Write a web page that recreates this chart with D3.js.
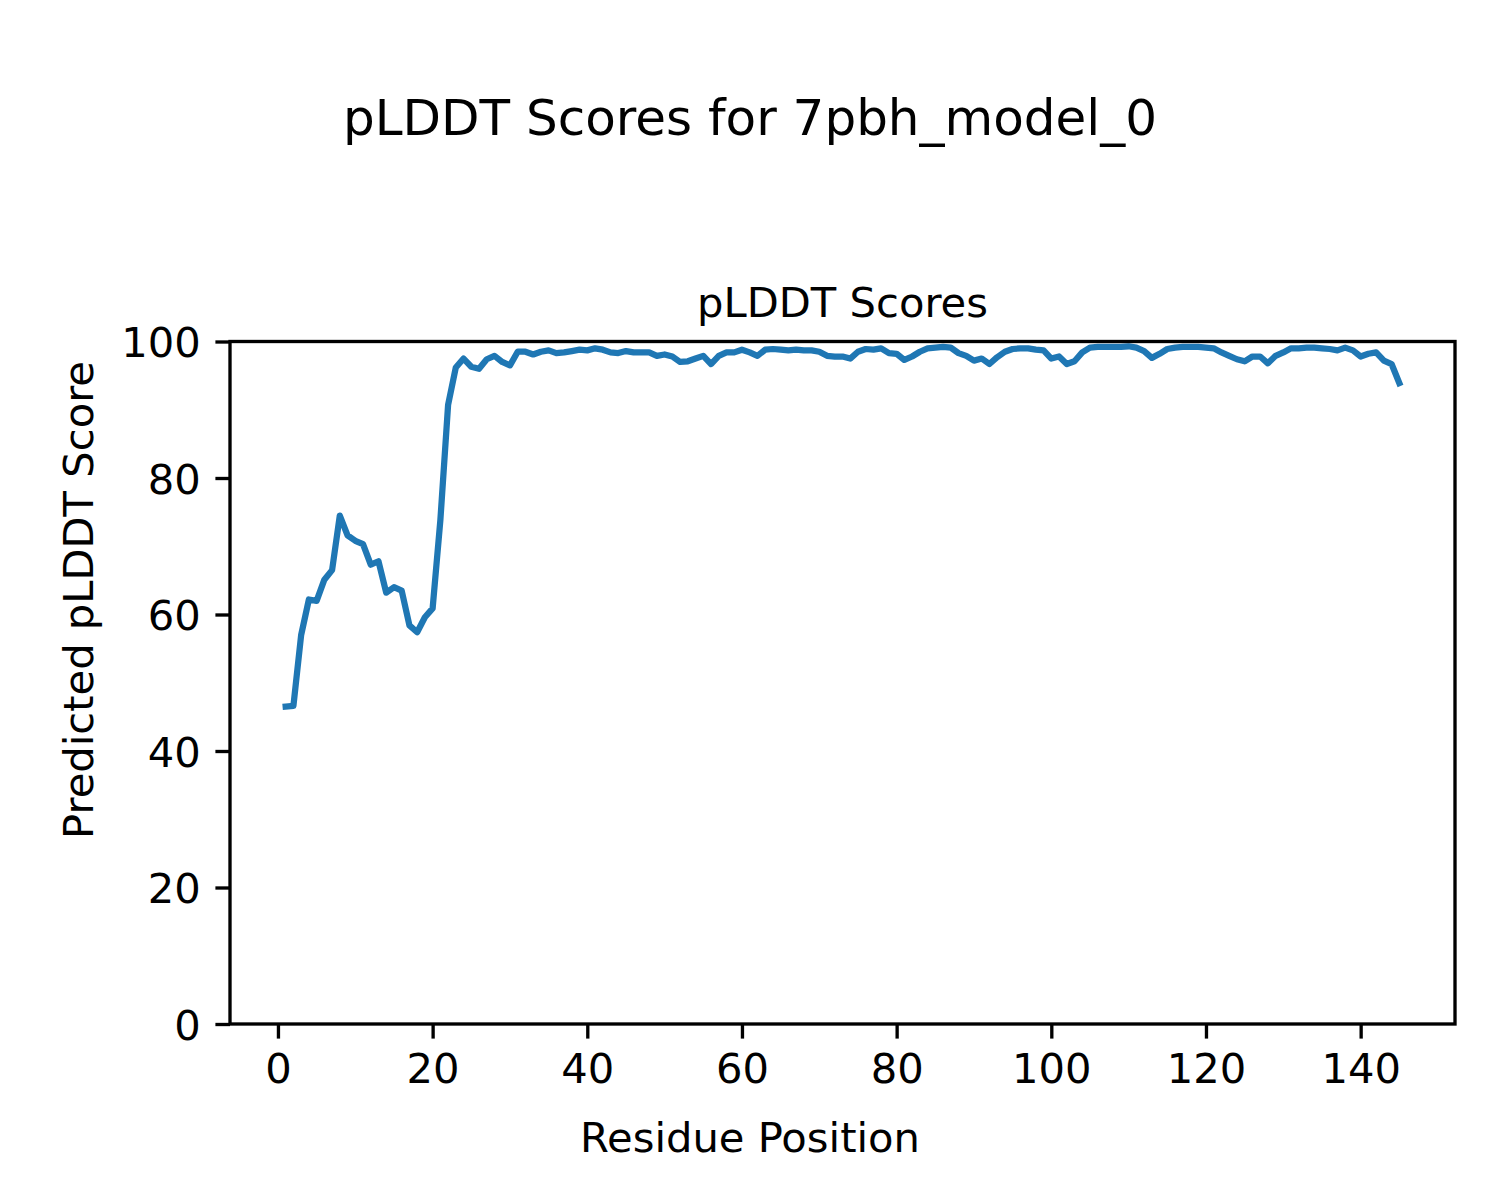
<!DOCTYPE html>
<html>
<head>
<meta charset="utf-8">
<script src="https://cdn.jsdelivr.net/npm/d3@7"></script>
<style>
  html, body { margin: 0; padding: 0; background: #fff; }
  svg { display: block; }
  text { font-family: "DejaVu Sans", sans-serif; fill: #000; }
</style>
</head>
<body>
<svg id="chart" width="1500" height="1200"></svg>
<script>
// Residue positions 1..145
const residues = d3.range(1, 146);
// pLDDT values
const plddt = [
  46.5, 46.6, 57.0, 62.2, 62.0, 65.1, 66.5, 74.5, 71.6, 70.8,
  70.3, 67.3, 67.8, 63.2, 64.0, 63.5, 58.4, 57.4, 59.6, 60.9,
  73.8, 90.7, 96.2, 97.5, 96.3, 96.0, 97.4, 97.9, 97.0, 96.5,
  98.5, 98.5, 98.1, 98.5, 98.7, 98.3, 98.4, 98.6, 98.8, 98.7,
  99.0, 98.8, 98.4, 98.3, 98.6, 98.4, 98.4, 98.4, 97.9, 98.1,
  97.8, 97.0, 97.1, 97.5, 97.9, 96.7, 97.9, 98.4, 98.4, 98.8,
  98.4, 97.9, 98.8, 98.9, 98.8, 98.7, 98.8, 98.7, 98.7, 98.5,
  97.9, 97.8, 97.8, 97.5, 98.5, 98.9, 98.8, 99.0, 98.3, 98.2,
  97.3, 97.8, 98.5, 99.0, 99.1, 99.2, 99.1, 98.3, 97.9, 97.2,
  97.5, 96.7, 97.7, 98.5, 98.9, 99.0, 99.0, 98.8, 98.7, 97.5,
  97.8, 96.7, 97.1, 98.4, 99.1, 99.2, 99.2, 99.2, 99.2, 99.3,
  99.1, 98.6, 97.6, 98.2, 98.9, 99.1, 99.2, 99.2, 99.2, 99.1,
  99.0, 98.4, 97.9, 97.4, 97.1, 97.8, 97.8, 96.8, 97.9, 98.4,
  99.0, 99.0, 99.1, 99.1, 99.0, 98.9, 98.7, 99.1, 98.7, 97.8,
  98.2, 98.4, 97.2, 96.7, 93.9
];
const xTicks = [0, 20, 40, 60, 80, 100, 120, 140];
const yTicks = [0, 20, 40, 60, 80, 100];
const figTitle = "pLDDT Scores for 7pbh_model_0";
const axTitle = "pLDDT Scores";
const xLabel = "Residue Position";
const yLabel = "Predicted pLDDT Score";

const data = residues.map((r, i) => ({ x: r, y: plddt[i] }));

const svg = d3.select("#chart");
const pLeft = 230, pRight = 1455, pTop = 341.5, pBottom = 1024;
const fs = 41.67, lw = 3.33, tick = 14.6;

const xMin = d3.min(residues), xMax = d3.max(residues);
const pad = (xMax - xMin) * 0.05;
const x = d3.scaleLinear().domain([xMin - pad, xMax + pad]).range([pLeft, pRight]);
const y = d3.scaleLinear().domain([0, 100]).range([pBottom, pTop]);

// Line
svg.append("path")
  .datum(data)
  .attr("fill", "none")
  .attr("stroke", "#1f77b4")
  .attr("stroke-width", 6.25)
  .attr("stroke-linejoin", "round")
  .attr("stroke-linecap", "square")
  .attr("d", d3.line().x(d => x(d.x)).y(d => y(d.y)));

// Frame
svg.append("rect")
  .attr("x", pLeft).attr("y", pTop)
  .attr("width", pRight - pLeft).attr("height", pBottom - pTop)
  .attr("fill", "none").attr("stroke", "#000").attr("stroke-width", lw);

// X axis
const gx = svg.append("g").attr("transform", `translate(0,${pBottom})`)
  .call(d3.axisBottom(x).tickValues(xTicks).tickFormat(d3.format("d"))
    .tickSize(tick).tickSizeOuter(0).tickPadding(tick));
gx.select(".domain").remove();
gx.selectAll(".tick line").attr("stroke", "#000").attr("stroke-width", lw);
gx.selectAll(".tick text").attr("font-size", fs).attr("font-family", "DejaVu Sans").attr("fill", "#000");

// Y axis
const gy = svg.append("g").attr("transform", `translate(${pLeft},0)`)
  .call(d3.axisLeft(y).tickValues(yTicks).tickFormat(d3.format("d"))
    .tickSize(tick).tickSizeOuter(0).tickPadding(tick));
gy.select(".domain").remove();
gy.selectAll(".tick line").attr("stroke", "#000").attr("stroke-width", lw);
gy.selectAll(".tick text").attr("font-size", fs).attr("font-family", "DejaVu Sans").attr("fill", "#000")
  .attr("dy", "0.36em");

// Titles
svg.append("text").attr("x", 750).attr("y", 135)
  .attr("text-anchor", "middle").attr("font-size", 50).text(figTitle);
svg.append("text").attr("x", (pLeft + pRight) / 2).attr("y", 316.5)
  .attr("text-anchor", "middle").attr("font-size", fs).text(axTitle);
svg.append("text").attr("x", 750).attr("y", 1151.5)
  .attr("text-anchor", "middle").attr("font-size", fs).text(xLabel);
svg.append("text").attr("transform", "translate(93,600) rotate(-90)")
  .attr("text-anchor", "middle").attr("font-size", fs).text(yLabel);
</script>
</body>
</html>
